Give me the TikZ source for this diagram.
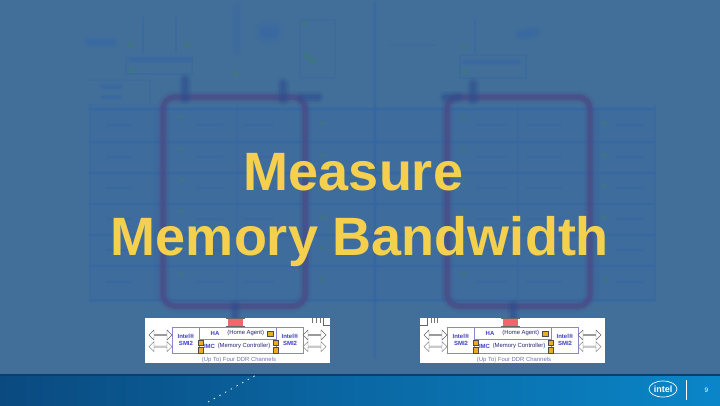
\documentclass[tikz,border=0pt]{standalone}
\usepackage{fontspec}
\setmainfont{Liberation Sans}
\usetikzlibrary{positioning,shapes.arrows,shapes.geometric,calc}
\definecolor{SlideBlue}{HTML}{426F9A}
\definecolor{GridBlue}{HTML}{3566A6}
\definecolor{RingPurple}{HTML}{4A4C88}
\definecolor{StubNavy}{HTML}{2B4C8C}
\definecolor{SpotGreen}{HTML}{3F7F70}
\definecolor{TitleGold}{HTML}{F5D04F}
\definecolor{FootDark}{HTML}{0A4A80}
\definecolor{FootLight}{HTML}{0A86C8}
\definecolor{FootLine}{HTML}{0B3E70}
\definecolor{BoxLine}{HTML}{8A86D0}
\definecolor{BoxText}{HTML}{3F3FC0}
\definecolor{PortGold}{HTML}{E8AE20}
\definecolor{LinkRed}{HTML}{F0686E}
% soft strokes for the faded picture behind the title
\newcommand{\smear}[3]{%
  \foreach \w/\o in {2.6/0.1,2/0.14,1.4/0.2,.9/0.25}
    \draw[#1,line width=\w*#2pt,opacity=\o,line cap=round] #3;}
\tikzset{
  ddrtext/.style={font=\fontsize{6}{7.5}\selectfont\bfseries,text=BoxText,inner sep=0pt,align=center},
  ddrplain/.style={font=\fontsize{5.9}{7}\selectfont,text=BoxText!60!black,inner sep=0pt},
  ddrport/.style={draw=black!70,line width=.3pt,fill=PortGold,minimum size=5.5pt,inner sep=0pt},
  ddrarrow/.style={double arrow,draw=black!60,line width=.4pt,fill=white,minimum width=10pt,
    minimum height=23pt,double arrow head extend=1.5pt,inner sep=0pt},
  titletext/.style={text=TitleGold,font=\fontsize{54}{60}\selectfont\bfseries,inner sep=0pt,anchor=base},
  ddrbox/.pic={
    \node[fill=white,minimum width=185pt,minimum height=45pt,inner sep=0pt] (-paper) at (92.5,22.5) {};
    \node[draw=BoxLine,line width=.7pt,minimum width=131pt,minimum height=26pt,inner sep=0pt] (-frame) at (92.5,22) {};
    \node[draw=BoxLine,line width=.7pt,minimum width=77pt,minimum height=26pt,inner sep=0pt] (-core) at (92.5,22) {};
    \coordinate (-ml) at (54,21); \coordinate (-mr) at (131,21);
    \draw[BoxLine,line width=.7pt] (-ml) -- (-mr);
    \node[ddrtext] (-ha) at (70,15) {HA};
    \node[ddrplain] (-hatext) at (100.7,15) {(Home Agent)};
    \node[ddrtext] (-imc) at (64.5,28) {IMC};
    \node[ddrplain] (-imctext) at (99,28) {(Memory Controller)};
    \node[ddrtext] (-smil) at (41,22) {Intel®\\SMI2};
    \node[ddrtext] (-smir) at (145,22) {Intel®\\SMI2};
    \node[ddrplain,text=BoxLine!85!black] (-ddr) at (94,42) {(Up To) Four DDR Channels};
    \node[ddrport] (-p1) at (125,15.5) {};
    \node[ddrport] (-p2) at (55.5,24.5) {};
    \node[ddrport] (-p3) at (55.5,32) {};
    \node[ddrport] (-p4) at (130.5,24.5) {};
    \node[ddrport] (-p5) at (130.5,32) {};
    \node[ddrarrow] (-a1) at (15.5,17) {};
    \node[ddrarrow] (-a2) at (15.5,28.7) {};
    \node[ddrarrow] (-a3) at (169.5,17) {};
    \node[ddrarrow] (-a4) at (169.5,28.7) {};
    \node[fill=LinkRed,minimum width=15pt,minimum height=8pt,inner sep=0pt] (-link) at (90.5,4) {};
    \draw[black!60,line width=.5pt] ($(-link.north west)+(-2,0)$) -- ($(-link.north east)+(2,0)$)
      ($(-link.south west)+(-2,0)$) -- ($(-link.south east)+(2,0)$);
  }
}
\begin{document}
\begin{tikzpicture}[x=1pt,y=-1pt]
  \useasboundingbox (0,0) rectangle (720,405);
  \fill[SlideBlue] (0,0) rectangle (720,405);
  % table of the faded picture
  \fill[GridBlue,opacity=.3] (90,107) rectangle (655,302);
  \foreach \y in {109,142,173,204,235,266,300}
    {\smear{GridBlue}{1.5}{(90,\y) -- (655,\y)}}
  \foreach \x in {90,155,237,308,375,443,518,598,655}
    {\smear{GridBlue!70!SlideBlue}{1}{(\x,105) -- (\x,300)}}
  \foreach \y in {125,157,188,219,250,282}
    {\smear{GridBlue}{1.4}{(108,\y) -- (130,\y)}
     \smear{GridBlue}{1.4}{(617,\y) -- (642,\y)}
     \smear{GridBlue!70!SlideBlue}{1.2}{(198,\y) -- (222,\y)}
     \smear{GridBlue!70!SlideBlue}{1.2}{(245,\y) -- (272,\y)}
     \smear{GridBlue!70!SlideBlue}{1.2}{(478,\y) -- (505,\y)}
     \smear{GridBlue!70!SlideBlue}{1.2}{(528,\y) -- (560,\y)}
     \smear{SpotGreen}{2.5}{(181,\y-8) -- (182,\y-8)}
     \smear{SpotGreen}{2.5}{(322,\y-2) -- (323,\y-2)}
     \smear{SpotGreen}{2.5}{(463,\y-8) -- (464,\y-8)}
     \smear{SpotGreen}{2.5}{(604,\y-2) -- (605,\y-2)}}
  \smear{GridBlue}{2}{(375,3) -- (375,357)}
  % blocks above the rings
  \smear{GridBlue}{5}{(90,42) -- (112,42)}
  \smear{GridBlue!70!SlideBlue}{.8}{(126,58) -- (192,58) -- (192,74) -- (126,74) -- cycle}
  \smear{GridBlue}{3}{(132,60) -- (190,60)}
  \smear{GridBlue!70!SlideBlue}{1.2}{(143,18) -- (143,52)}
  \smear{GridBlue!70!SlideBlue}{1.2}{(176,18) -- (176,52)}
  \smear{GridBlue!60!SlideBlue}{6}{(237,8) -- (237,50)}
  \smear{GridBlue}{10}{(266,32) -- (272,32)}
  \smear{GridBlue!60!SlideBlue}{.8}{(300,20) -- (335,20) -- (335,78) -- (300,78) -- cycle}
  \smear{SpotGreen}{3}{(130,44) -- (131,45)}
  \smear{SpotGreen}{3}{(187,44) -- (188,45)}
  \smear{SpotGreen}{3}{(131,71) -- (132,71)}
  \smear{SpotGreen}{3}{(235,74) -- (236,74)}
  \smear{SpotGreen}{3}{(304,23) -- (305,23)}
  \smear{SpotGreen}{2.5}{(305,55) -- (315,62)}
  \smear{GridBlue}{5}{(520,35) -- (535,32)}
  \smear{GridBlue!70!SlideBlue}{.8}{(460,55) -- (526,55) -- (526,78) -- (460,78) -- cycle}
  \smear{GridBlue}{3}{(465,62) -- (518,62)}
  \smear{GridBlue!70!SlideBlue}{1.2}{(475,20) -- (475,52)}
  \smear{SpotGreen}{3}{(463,47) -- (464,47)}
  \smear{SpotGreen}{3}{(464,72) -- (465,72)}
  \smear{GridBlue!60!SlideBlue}{.8}{(390,45) -- (435,45)}
  \smear{GridBlue!40!SlideBlue}{.8}{(88,80) -- (150,80) -- (150,105) -- (88,105)}
  \smear{GridBlue}{3}{(103,87) -- (120,87)}
  \smear{GridBlue}{2.5}{(103,97) -- (120,97)}
  % rings
  \smear{RingPurple}{5}{[rounded corners=12pt] (163,97) rectangle (305,306)}
  \smear{RingPurple}{5}{[rounded corners=12pt] (447,97) rectangle (590,306)}
  \draw[RingPurple,line width=5pt,opacity=.55,rounded corners=12pt] (163,97) rectangle (305,306);
  \draw[RingPurple,line width=5pt,opacity=.55,rounded corners=12pt] (447,97) rectangle (590,306);
  \smear{StubNavy}{5.5}{(185,80) -- (185,98)}
  \smear{StubNavy}{5.5}{(283,84) -- (283,99)}
  \smear{StubNavy}{5}{(302,97) -- (318,97)}
  \smear{StubNavy}{5}{(445,97) -- (458,97)}
  \smear{StubNavy}{5.5}{(473,84) -- (473,99)}
  \smear{StubNavy}{5}{(235,306) -- (235,318)}
  \smear{StubNavy}{5}{(513,306) -- (513,318)}
  % footer
  \shade[left color=FootDark,right color=FootLight] (0,375) rectangle (720,405);
  \fill[FootLine] (0,373.5) rectangle (720,376);
  \coordinate (trailA) at (208,402);
  \coordinate (trailB) at (258,374);
  \draw[white,dash pattern=on 1.5pt off 5pt,line width=.7pt] (trailA) -- (trailB);
  % memory controller panels
  \pic (left) at (145,318) {ddrbox};
  \pic (right) at (420,318) {ddrbox};
  \draw[black!60,line width=.5pt] (323,318) -- (323,325.5) -- (330,325.5);
  \draw[black!60,line width=.5pt] (427,318) -- (427,325.5) -- (420,325.5);
  \foreach \x in {312,316,320,431,434,437}
    \draw[black!55,line width=.8pt] (\x,318) -- (\x,323);
  % title
  \node[titletext] (titleA) at (353.5,190) {Measure};
  \node[titletext] (titleB) at (360,255) {Memory Bandwidth};
  % logo and page
  \node[ellipse,draw=white,line width=.7pt,minimum width=28pt,minimum height=16pt,inner sep=0pt,
    text=white,font=\fontsize{9}{9}\selectfont\bfseries] (logo) at (663,389) {intel};
  \node[minimum width=0pt,inner sep=0pt] (rulemark) at (686.5,379) {};
  \node[minimum width=0pt,inner sep=0pt,below=20pt of rulemark] (rulefoot) {};
  \draw[white,line width=.6pt] (rulemark) -- (rulefoot);
  \node[text=white,font=\fontsize{6.5}{7}\selectfont] (page) at (706.5,390) {9};
\end{tikzpicture}
\end{document}
